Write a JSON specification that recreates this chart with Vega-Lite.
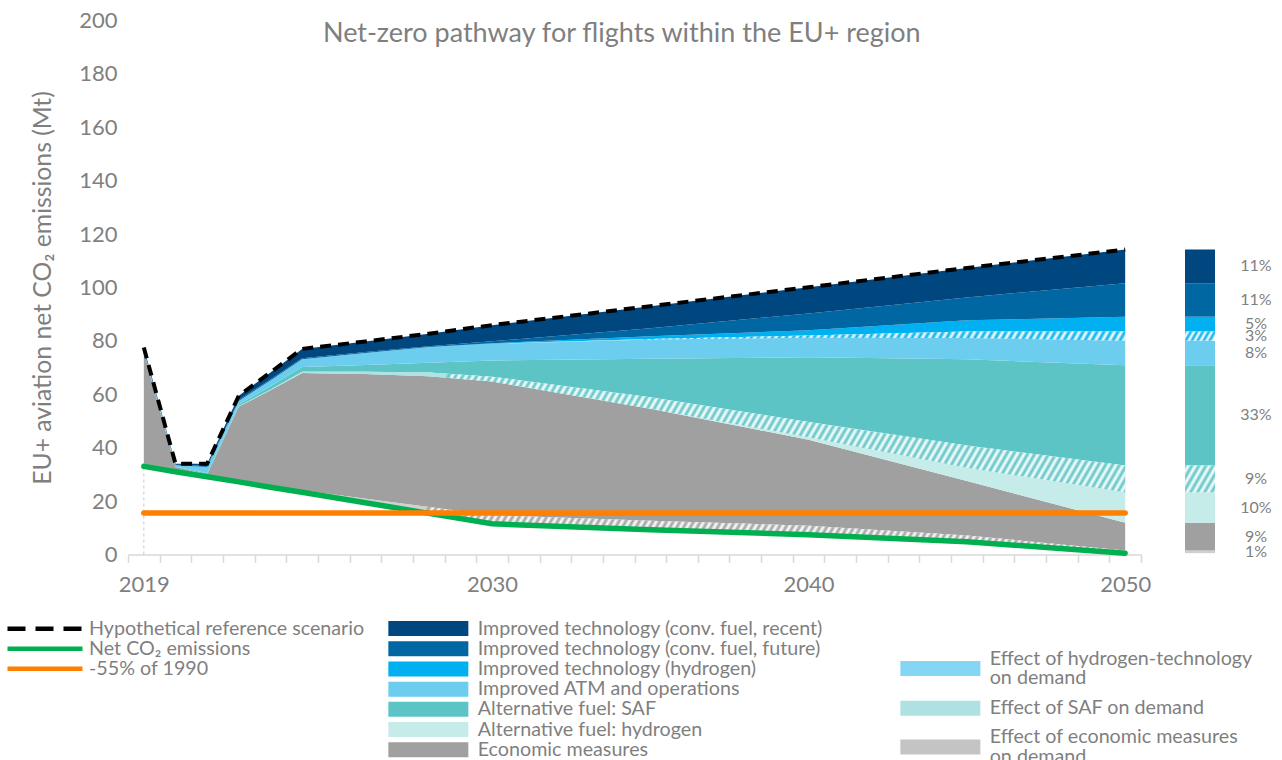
{
  "$schema": "https://vega.github.io/schema/vega-lite/v6.json",
  "background": "white",
  "padding": {"left": 5, "top": 9.5, "right": 5, "bottom": 0},
  "bounds": "flush",
  "spacing": 44,
  "config": {
    "font": "Lato",
    "view": {"stroke": null},
    "axis": {"labelFont": "Lato", "titleFont": "Lato", "labelColor": "#7f7f7f", "titleColor": "#7f7f7f", "grid": false, "titleFontWeight": "normal"},
    "legend": {"labelFont": "Lato", "labelColor": "#7f7f7f", "labelFontSize": 19.7, "labelLimit": 600, "padding": 0}
  },
  "datasets": {
    "comps": [
      {"key": "net", "label": "Net", "o": 0, "line": "Net CO₂ emissions"},
      {"key": "econ_demand", "label": "Effect of economic measures on demand", "o": 1, "line": ""},
      {"key": "econ", "label": "Economic measures", "o": 2, "line": ""},
      {"key": "h2_fuel", "label": "Alternative fuel: hydrogen", "o": 3, "line": ""},
      {"key": "saf_demand", "label": "Effect of SAF on demand", "o": 4, "line": ""},
      {"key": "saf", "label": "Alternative fuel: SAF", "o": 5, "line": ""},
      {"key": "atm", "label": "Improved ATM and operations", "o": 6, "line": ""},
      {"key": "h2_demand", "label": "Effect of hydrogen-technology on demand", "o": 7, "line": ""},
      {"key": "h2_tech", "label": "Improved technology (hydrogen)", "o": 8, "line": ""},
      {"key": "tech_future", "label": "Improved technology (conv. fuel, future)", "o": 9, "line": ""},
      {"key": "tech_recent", "label": "Improved technology (conv. fuel, recent)", "o": 10, "line": "Hypothetical reference scenario"}
    ],
    "years": [
      {"year": 2019, "net": 33.0, "econ_demand": 0, "econ": 42.8, "h2_fuel": 0, "saf_demand": 0, "saf": 0.2, "atm": 0.6, "h2_demand": 0, "h2_tech": 0, "tech_future": 0, "tech_recent": 0.9},
      {"year": 2020, "net": 31.0, "econ_demand": 0, "econ": 1.8, "h2_fuel": 0, "saf_demand": 0, "saf": 0.2, "atm": 0.4, "h2_demand": 0, "h2_tech": 0, "tech_future": 0.2, "tech_recent": 0.4},
      {"year": 2021, "net": 29.1, "econ_demand": 0, "econ": 0.8, "h2_fuel": 0, "saf_demand": 0, "saf": 0.5, "atm": 2.4, "h2_demand": 0, "h2_tech": 0, "tech_future": 0.4, "tech_recent": 0.8},
      {"year": 2022, "net": 27.2, "econ_demand": 0.3, "econ": 27.9, "h2_fuel": 0, "saf_demand": 0.1, "saf": 0.7, "atm": 1.3, "h2_demand": 0, "h2_tech": 0, "tech_future": 0.5, "tech_recent": 1.5},
      {"year": 2023, "net": 25.2, "econ_demand": 0.5, "econ": 35.8, "h2_fuel": 0, "saf_demand": 0.2, "saf": 1.3, "atm": 2.2, "h2_demand": 0, "h2_tech": 0, "tech_future": 0.4, "tech_recent": 2.6},
      {"year": 2024, "net": 23.3, "econ_demand": 0.8, "econ": 43.9, "h2_fuel": 0, "saf_demand": 0.4, "saf": 1.8, "atm": 2.9, "h2_demand": 0, "h2_tech": 0, "tech_future": 0.4, "tech_recent": 3.5},
      {"year": 2026, "net": 19.4, "econ_demand": 1.5, "econ": 46.7, "h2_fuel": 0, "saf_demand": 0.8, "saf": 2.6, "atm": 4.5, "h2_demand": 0, "h2_tech": 0, "tech_future": 0.3, "tech_recent": 4.0},
      {"year": 2028, "net": 15.4, "econ_demand": 2.4, "econ": 49.0, "h2_fuel": 0, "saf_demand": 1.4, "saf": 3.6, "atm": 5.8, "h2_demand": 0, "h2_tech": 0.1, "tech_future": 0.3, "tech_recent": 4.7},
      {"year": 2030, "net": 11.5, "econ_demand": 3.2, "econ": 50.1, "h2_fuel": 0, "saf_demand": 1.8, "saf": 6.1, "atm": 6.2, "h2_demand": 0, "h2_tech": 0.2, "tech_future": 0.8, "tech_recent": 6.0},
      {"year": 2035, "net": 9.3, "econ_demand": 3.3, "econ": 42.0, "h2_fuel": 0, "saf_demand": 4.3, "saf": 14.4, "atm": 7.2, "h2_demand": 0.2, "h2_tech": 1.0, "tech_future": 3.0, "tech_recent": 8.3},
      {"year": 2040, "net": 7.4, "econ_demand": 3.4, "econ": 32.2, "h2_fuel": 0.9, "saf_demand": 5.7, "saf": 24.3, "atm": 7.3, "h2_demand": 0.8, "h2_tech": 2.0, "tech_future": 6.3, "tech_recent": 9.8},
      {"year": 2045, "net": 4.8, "econ_demand": 2.3, "econ": 20.4, "h2_fuel": 5.0, "saf_demand": 8.3, "saf": 32.3, "atm": 8.0, "h2_demand": 2.4, "h2_tech": 4.2, "tech_future": 8.6, "tech_recent": 11.0},
      {"year": 2050, "net": 0.5, "econ_demand": 1.0, "econ": 10.4, "h2_fuel": 11.4, "saf_demand": 10.0, "saf": 37.6, "atm": 9.2, "h2_demand": 3.4, "h2_tech": 5.5, "tech_future": 12.6, "tech_recent": 12.6}
    ],
    "target": [
      {"year": 2019, "v": 15.5, "line": "-55% of 1990"},
      {"year": 2050, "v": 15.5, "line": "-55% of 1990"}
    ],
    "heading": [
      {"year": 2034.1, "v": 195.1, "text": "Net-zero pathway for flights within the EU+ region"}
    ],
    "bar": [
      {"key": "net", "v": 0.5, "pct": ""},
      {"key": "econ_demand", "v": 1.0, "pct": "1%"},
      {"key": "econ", "v": 10.4, "pct": "9%"},
      {"key": "h2_fuel", "v": 11.4, "pct": "10%"},
      {"key": "saf_demand", "v": 10.0, "pct": "9%"},
      {"key": "saf", "v": 37.6, "pct": "33%"},
      {"key": "atm", "v": 9.2, "pct": "8%"},
      {"key": "h2_demand", "v": 3.4, "pct": "3%"},
      {"key": "h2_tech", "v": 5.5, "pct": "5%"},
      {"key": "tech_future", "v": 12.6, "pct": "11%"},
      {"key": "tech_recent", "v": 12.6, "pct": "11%"}
    ]
  },
  "resolve": {
    "scale": {"y": "independent", "fill": "independent"},
    "legend": {"fill": "independent"}
  },
  "hconcat": [
    {
      "width": 1013,
      "height": 534,
      "layer": [
        {
          "data": {"name": "years"},
          "transform": [
            {"fold": ["net", "econ_demand", "econ", "h2_fuel", "saf_demand", "saf", "atm", "h2_demand", "h2_tech", "tech_future", "tech_recent"], "as": ["key", "v"]},
            {"lookup": "key", "from": {"data": {"name": "comps"}, "key": "key", "fields": ["label", "o", "line"]}},
            {"stack": "v", "groupby": ["year"], "sort": [{"field": "o", "order": "ascending"}], "as": ["v0", "v1"]}
          ],
          "layer": [
            {
              "transform": [{"filter": {"field": "key", "oneOf": ["econ", "h2_fuel", "saf", "atm", "h2_tech", "tech_future", "tech_recent"]}}],
              "mark": {"type": "area", "interpolate": "linear"},
              "encoding": {
                "x": {"field": "year", "type": "quantitative", "scale": {"domain": [2018.5, 2050.5], "nice": false, "zero": false},
                  "axis": {"title": null, "values": [2018.5, 2019, 2019.5, 2020.5, 2021.5, 2022.5, 2023.5, 2024.5, 2025.5, 2026.5, 2027.5, 2028.5, 2029.5, 2030, 2030.5, 2031.5, 2032.5, 2033.5, 2034.5, 2035.5, 2036.5, 2037.5, 2038.5, 2039.5, 2040, 2040.5, 2041.5, 2042.5, 2043.5, 2044.5, 2045.5, 2046.5, 2047.5, 2048.5, 2049.5, 2050, 2050.5],
                    "tickCount": 200, "labelFlush": false,
                    "labelExpr": "datum.value % 1 === 0 ? '' + datum.value : ''", "labelOverlap": false, "labelFontSize": 22, "labelPadding": 12, "labelAngle": 0,
                    "domainColor": "#d9d9d9", "domainWidth": 1.5, "tickColor": "#d9d9d9", "tickWidth": 1.5, "tickSize": 8,
                    "tickOpacity": {"condition": {"test": "datum.value % 1 === 0", "value": 0}, "value": 1}}},
                "y": {"field": "v1", "type": "quantitative", "stack": null, "scale": {"domain": [0, 200], "nice": false},
                  "axis": {"title": "EU+ aviation net CO₂ emissions (Mt)", "values": [0, 20, 40, 60, 80, 100, 120, 140, 160, 180, 200], "domain": false, "ticks": false, "grid": false, "labelPadding": 11, "labelFontSize": 22, "titleFontSize": 24.7, "titlePadding": 23}},
                "y2": {"field": "v0"},
                "fill": {"field": "label", "type": "nominal",
                  "scale": {"domain": ["Improved technology (conv. fuel, recent)", "Improved technology (conv. fuel, future)", "Improved technology (hydrogen)", "Improved ATM and operations", "Alternative fuel: SAF", "Alternative fuel: hydrogen", "Economic measures"],
                    "range": ["#00467f", "#0067a3", "#00b0f0", "#6dcdef", "#5dc4c6", "#c5ece8", "#a0a0a0"]},
                  "legend": {"orient": "none", "legendX": 260, "legendY": 598.2, "title": null, "symbolType": "M-1,-0.79H7.42V0.79H-1Z", "symbolSize": 361, "symbolStrokeWidth": 0, "labelOffset": 70, "rowPadding": -0.8}}
              }
            },
            {
              "transform": [{"filter": {"field": "key", "oneOf": ["econ_demand", "saf_demand", "h2_demand"]}}],
              "mark": {"type": "area", "interpolate": "linear"},
              "encoding": {
                "x": {"field": "year", "type": "quantitative"},
                "y": {"field": "v1", "type": "quantitative", "stack": null},
                "y2": {"field": "v0"},
                "color": {"field": "label", "type": "nominal",
                  "scale": {"domain": ["Effect of hydrogen-technology on demand", "Effect of SAF on demand", "Effect of economic measures on demand"], "range": ["#85d6f5", "#afe1e2", "#c4c4c4"]},
                  "legend": {"orient": "none", "legendX": 772, "legendY": 638.25, "title": null, "symbolType": "M-1,-0.79H7.42V0.79H-1Z", "symbolSize": 361, "symbolStrokeWidth": 0, "labelOffset": 70, "rowPadding": 8.75,
                    "labelExpr": "datum.label == 'Effect of hydrogen-technology on demand' ? ['Effect of hydrogen-technology', 'on demand'] : datum.label == 'Effect of economic measures on demand' ? ['Effect of economic measures', 'on demand'] : datum.label",
                    "encode": {"labels": {"update": {"lineHeight": {"value": 19.5}, "dy": [{"test": "datum.value === 'Effect of hydrogen-technology on demand' || datum.value === 'Effect of economic measures on demand'", "value": -9.75}, {"value": 0}]}}}}}
              }
            },
            {
              "transform": [{"filter": {"field": "key", "equal": "econ_demand"}}],
              "mark": {"type": "area", "interpolate": "linear", "fill": {"gradient": "linear", "x1": 0, "y1": 0, "x2": 1.0483, "y2": 0.0535, "stops": [
                {"offset": 0, "color": "#d0d0d0"}, {"offset": 0.2967, "color": "#d0d0d0"},
                {"offset": 0.3000, "color": "#a0a0a0"}, {"offset": 0.3033, "color": "#fff"}, {"offset": 0.3066, "color": "#a0a0a0"}, {"offset": 0.3099, "color": "#fff"}, {"offset": 0.3132, "color": "#a0a0a0"}, {"offset": 0.3165, "color": "#fff"}, {"offset": 0.3198, "color": "#a0a0a0"}, {"offset": 0.3231, "color": "#fff"}, {"offset": 0.3264, "color": "#a0a0a0"}, {"offset": 0.3297, "color": "#fff"},
                {"offset": 0.3330, "color": "#a0a0a0"}, {"offset": 0.3363, "color": "#fff"}, {"offset": 0.3396, "color": "#a0a0a0"}, {"offset": 0.3429, "color": "#fff"}, {"offset": 0.3462, "color": "#a0a0a0"}, {"offset": 0.3495, "color": "#fff"}, {"offset": 0.3528, "color": "#a0a0a0"}, {"offset": 0.3561, "color": "#fff"}, {"offset": 0.3594, "color": "#a0a0a0"}, {"offset": 0.3627, "color": "#fff"},
                {"offset": 0.3660, "color": "#a0a0a0"}, {"offset": 0.3693, "color": "#fff"}, {"offset": 0.3726, "color": "#a0a0a0"}, {"offset": 0.3759, "color": "#fff"}, {"offset": 0.3792, "color": "#a0a0a0"}, {"offset": 0.3825, "color": "#fff"}, {"offset": 0.3858, "color": "#a0a0a0"}, {"offset": 0.3891, "color": "#fff"}, {"offset": 0.3924, "color": "#a0a0a0"}, {"offset": 0.3957, "color": "#fff"},
                {"offset": 0.3990, "color": "#a0a0a0"}, {"offset": 0.4023, "color": "#fff"}, {"offset": 0.4056, "color": "#a0a0a0"}, {"offset": 0.4089, "color": "#fff"}, {"offset": 0.4122, "color": "#a0a0a0"}, {"offset": 0.4155, "color": "#fff"}, {"offset": 0.4188, "color": "#a0a0a0"}, {"offset": 0.4221, "color": "#fff"}, {"offset": 0.4254, "color": "#a0a0a0"}, {"offset": 0.4287, "color": "#fff"},
                {"offset": 0.4320, "color": "#a0a0a0"}, {"offset": 0.4353, "color": "#fff"}, {"offset": 0.4386, "color": "#a0a0a0"}, {"offset": 0.4419, "color": "#fff"}, {"offset": 0.4452, "color": "#a0a0a0"}, {"offset": 0.4485, "color": "#fff"}, {"offset": 0.4518, "color": "#a0a0a0"}, {"offset": 0.4551, "color": "#fff"}, {"offset": 0.4584, "color": "#a0a0a0"}, {"offset": 0.4617, "color": "#fff"},
                {"offset": 0.4650, "color": "#a0a0a0"}, {"offset": 0.4683, "color": "#fff"}, {"offset": 0.4716, "color": "#a0a0a0"}, {"offset": 0.4749, "color": "#fff"}, {"offset": 0.4782, "color": "#a0a0a0"}, {"offset": 0.4815, "color": "#fff"}, {"offset": 0.4848, "color": "#a0a0a0"}, {"offset": 0.4881, "color": "#fff"}, {"offset": 0.4914, "color": "#a0a0a0"}, {"offset": 0.4947, "color": "#fff"},
                {"offset": 0.4980, "color": "#a0a0a0"}, {"offset": 0.5013, "color": "#fff"}, {"offset": 0.5046, "color": "#a0a0a0"}, {"offset": 0.5079, "color": "#fff"}, {"offset": 0.5112, "color": "#a0a0a0"}, {"offset": 0.5145, "color": "#fff"}, {"offset": 0.5178, "color": "#a0a0a0"}, {"offset": 0.5211, "color": "#fff"}, {"offset": 0.5244, "color": "#a0a0a0"}, {"offset": 0.5277, "color": "#fff"},
                {"offset": 0.5310, "color": "#a0a0a0"}, {"offset": 0.5343, "color": "#fff"}, {"offset": 0.5376, "color": "#a0a0a0"}, {"offset": 0.5409, "color": "#fff"}, {"offset": 0.5442, "color": "#a0a0a0"}, {"offset": 0.5475, "color": "#fff"}, {"offset": 0.5508, "color": "#a0a0a0"}, {"offset": 0.5541, "color": "#fff"}, {"offset": 0.5574, "color": "#a0a0a0"}, {"offset": 0.5607, "color": "#fff"},
                {"offset": 0.5640, "color": "#a0a0a0"}, {"offset": 0.5673, "color": "#fff"}, {"offset": 0.5706, "color": "#a0a0a0"}, {"offset": 0.5739, "color": "#fff"}, {"offset": 0.5772, "color": "#a0a0a0"}, {"offset": 0.5805, "color": "#fff"}, {"offset": 0.5838, "color": "#a0a0a0"}, {"offset": 0.5871, "color": "#fff"}, {"offset": 0.5904, "color": "#a0a0a0"}, {"offset": 0.5937, "color": "#fff"},
                {"offset": 0.5970, "color": "#a0a0a0"}, {"offset": 0.6003, "color": "#fff"}, {"offset": 0.6036, "color": "#a0a0a0"}, {"offset": 0.6069, "color": "#fff"}, {"offset": 0.6102, "color": "#a0a0a0"}, {"offset": 0.6135, "color": "#fff"}, {"offset": 0.6168, "color": "#a0a0a0"}, {"offset": 0.6201, "color": "#fff"}, {"offset": 0.6234, "color": "#a0a0a0"}, {"offset": 0.6267, "color": "#fff"},
                {"offset": 0.6300, "color": "#a0a0a0"}, {"offset": 0.6333, "color": "#fff"}, {"offset": 0.6366, "color": "#a0a0a0"}, {"offset": 0.6399, "color": "#fff"}, {"offset": 0.6432, "color": "#a0a0a0"}, {"offset": 0.6465, "color": "#fff"}, {"offset": 0.6498, "color": "#a0a0a0"}, {"offset": 0.6531, "color": "#fff"}, {"offset": 0.6564, "color": "#a0a0a0"}, {"offset": 0.6597, "color": "#fff"},
                {"offset": 0.6630, "color": "#a0a0a0"}, {"offset": 0.6663, "color": "#fff"}, {"offset": 0.6696, "color": "#a0a0a0"}, {"offset": 0.6729, "color": "#fff"}, {"offset": 0.6762, "color": "#a0a0a0"}, {"offset": 0.6795, "color": "#fff"}, {"offset": 0.6828, "color": "#a0a0a0"}, {"offset": 0.6861, "color": "#fff"}, {"offset": 0.6894, "color": "#a0a0a0"}, {"offset": 0.6927, "color": "#fff"},
                {"offset": 0.6960, "color": "#a0a0a0"}, {"offset": 0.6993, "color": "#fff"}, {"offset": 0.7026, "color": "#a0a0a0"}, {"offset": 0.7059, "color": "#fff"}, {"offset": 0.7092, "color": "#a0a0a0"}, {"offset": 0.7125, "color": "#fff"}, {"offset": 0.7158, "color": "#a0a0a0"}, {"offset": 0.7191, "color": "#fff"}, {"offset": 0.7224, "color": "#a0a0a0"}, {"offset": 0.7257, "color": "#fff"},
                {"offset": 0.7290, "color": "#a0a0a0"}, {"offset": 0.7323, "color": "#fff"}, {"offset": 0.7356, "color": "#a0a0a0"}, {"offset": 0.7389, "color": "#fff"}, {"offset": 0.7422, "color": "#a0a0a0"}, {"offset": 0.7455, "color": "#fff"}, {"offset": 0.7488, "color": "#a0a0a0"}, {"offset": 0.7521, "color": "#fff"}, {"offset": 0.7554, "color": "#a0a0a0"}, {"offset": 0.7587, "color": "#fff"},
                {"offset": 0.7620, "color": "#a0a0a0"}, {"offset": 0.7653, "color": "#fff"}, {"offset": 0.7686, "color": "#a0a0a0"}, {"offset": 0.7719, "color": "#fff"}, {"offset": 0.7752, "color": "#a0a0a0"}, {"offset": 0.7785, "color": "#fff"}, {"offset": 0.7818, "color": "#a0a0a0"}, {"offset": 0.7851, "color": "#fff"}, {"offset": 0.7884, "color": "#a0a0a0"}, {"offset": 0.7917, "color": "#fff"},
                {"offset": 0.7950, "color": "#a0a0a0"}, {"offset": 0.7983, "color": "#fff"}, {"offset": 0.8016, "color": "#a0a0a0"}, {"offset": 0.8049, "color": "#fff"}, {"offset": 0.8082, "color": "#a0a0a0"}, {"offset": 0.8115, "color": "#fff"}, {"offset": 0.8148, "color": "#a0a0a0"}, {"offset": 0.8181, "color": "#fff"}, {"offset": 0.8214, "color": "#a0a0a0"}, {"offset": 0.8247, "color": "#fff"},
                {"offset": 0.8280, "color": "#a0a0a0"}, {"offset": 0.8313, "color": "#fff"}, {"offset": 0.8346, "color": "#a0a0a0"}, {"offset": 0.8379, "color": "#fff"}, {"offset": 0.8412, "color": "#a0a0a0"}, {"offset": 0.8445, "color": "#fff"}, {"offset": 0.8478, "color": "#a0a0a0"}, {"offset": 0.8511, "color": "#fff"}, {"offset": 0.8544, "color": "#a0a0a0"}, {"offset": 0.8577, "color": "#fff"},
                {"offset": 0.8610, "color": "#a0a0a0"}, {"offset": 0.8643, "color": "#fff"}, {"offset": 0.8676, "color": "#a0a0a0"}, {"offset": 0.8709, "color": "#fff"}, {"offset": 0.8742, "color": "#a0a0a0"}, {"offset": 0.8775, "color": "#fff"}, {"offset": 0.8808, "color": "#a0a0a0"}, {"offset": 0.8841, "color": "#fff"}, {"offset": 0.8874, "color": "#a0a0a0"}, {"offset": 0.8907, "color": "#fff"},
                {"offset": 0.8940, "color": "#a0a0a0"}, {"offset": 0.8973, "color": "#fff"}, {"offset": 0.9006, "color": "#a0a0a0"}, {"offset": 0.9039, "color": "#fff"}, {"offset": 0.9072, "color": "#a0a0a0"}, {"offset": 0.9105, "color": "#fff"}, {"offset": 0.9138, "color": "#a0a0a0"}, {"offset": 0.9171, "color": "#fff"}, {"offset": 0.9204, "color": "#a0a0a0"}, {"offset": 0.9237, "color": "#fff"},
                {"offset": 0.9270, "color": "#a0a0a0"}, {"offset": 0.9303, "color": "#fff"}, {"offset": 0.9336, "color": "#a0a0a0"}, {"offset": 0.9369, "color": "#fff"}, {"offset": 0.9402, "color": "#a0a0a0"}, {"offset": 0.9435, "color": "#fff"}, {"offset": 0.9468, "color": "#a0a0a0"}, {"offset": 0.9501, "color": "#fff"}, {"offset": 0.9534, "color": "#a0a0a0"}, {"offset": 0.9567, "color": "#fff"},
                {"offset": 0.9600, "color": "#a0a0a0"}, {"offset": 0.9633, "color": "#fff"}, {"offset": 0.9666, "color": "#a0a0a0"}, {"offset": 0.9699, "color": "#fff"}, {"offset": 0.9732, "color": "#a0a0a0"}, {"offset": 0.9765, "color": "#fff"}, {"offset": 0.9798, "color": "#a0a0a0"}, {"offset": 0.9831, "color": "#fff"}, {"offset": 0.9864, "color": "#a0a0a0"}, {"offset": 0.9897, "color": "#fff"},
                {"offset": 0.9930, "color": "#a0a0a0"}, {"offset": 0.9963, "color": "#fff"}, {"offset": 0.9996, "color": "#a0a0a0"}
              ]}},
              "encoding": {
                "x": {"field": "year", "type": "quantitative"},
                "y": {"field": "v1", "type": "quantitative", "stack": null},
                "y2": {"field": "v0"}
              }
            },
            {
              "transform": [{"filter": {"field": "key", "equal": "saf_demand"}}],
              "mark": {"type": "area", "interpolate": "linear", "fill": {"gradient": "linear", "x1": 0, "y1": 0, "x2": 1.0752, "y2": 0.0887, "stops": [
                {"offset": 0, "color": "#aee2e3"}, {"offset": 0.2967, "color": "#aee2e3"},
                {"offset": 0.3000, "color": "#5dc4c6"}, {"offset": 0.3033, "color": "#fff"}, {"offset": 0.3066, "color": "#5dc4c6"}, {"offset": 0.3099, "color": "#fff"}, {"offset": 0.3132, "color": "#5dc4c6"}, {"offset": 0.3165, "color": "#fff"}, {"offset": 0.3198, "color": "#5dc4c6"}, {"offset": 0.3231, "color": "#fff"}, {"offset": 0.3264, "color": "#5dc4c6"}, {"offset": 0.3297, "color": "#fff"},
                {"offset": 0.3330, "color": "#5dc4c6"}, {"offset": 0.3363, "color": "#fff"}, {"offset": 0.3396, "color": "#5dc4c6"}, {"offset": 0.3429, "color": "#fff"}, {"offset": 0.3462, "color": "#5dc4c6"}, {"offset": 0.3495, "color": "#fff"}, {"offset": 0.3528, "color": "#5dc4c6"}, {"offset": 0.3561, "color": "#fff"}, {"offset": 0.3594, "color": "#5dc4c6"}, {"offset": 0.3627, "color": "#fff"},
                {"offset": 0.3660, "color": "#5dc4c6"}, {"offset": 0.3693, "color": "#fff"}, {"offset": 0.3726, "color": "#5dc4c6"}, {"offset": 0.3759, "color": "#fff"}, {"offset": 0.3792, "color": "#5dc4c6"}, {"offset": 0.3825, "color": "#fff"}, {"offset": 0.3858, "color": "#5dc4c6"}, {"offset": 0.3891, "color": "#fff"}, {"offset": 0.3924, "color": "#5dc4c6"}, {"offset": 0.3957, "color": "#fff"},
                {"offset": 0.3990, "color": "#5dc4c6"}, {"offset": 0.4023, "color": "#fff"}, {"offset": 0.4056, "color": "#5dc4c6"}, {"offset": 0.4089, "color": "#fff"}, {"offset": 0.4122, "color": "#5dc4c6"}, {"offset": 0.4155, "color": "#fff"}, {"offset": 0.4188, "color": "#5dc4c6"}, {"offset": 0.4221, "color": "#fff"}, {"offset": 0.4254, "color": "#5dc4c6"}, {"offset": 0.4287, "color": "#fff"},
                {"offset": 0.4320, "color": "#5dc4c6"}, {"offset": 0.4353, "color": "#fff"}, {"offset": 0.4386, "color": "#5dc4c6"}, {"offset": 0.4419, "color": "#fff"}, {"offset": 0.4452, "color": "#5dc4c6"}, {"offset": 0.4485, "color": "#fff"}, {"offset": 0.4518, "color": "#5dc4c6"}, {"offset": 0.4551, "color": "#fff"}, {"offset": 0.4584, "color": "#5dc4c6"}, {"offset": 0.4617, "color": "#fff"},
                {"offset": 0.4650, "color": "#5dc4c6"}, {"offset": 0.4683, "color": "#fff"}, {"offset": 0.4716, "color": "#5dc4c6"}, {"offset": 0.4749, "color": "#fff"}, {"offset": 0.4782, "color": "#5dc4c6"}, {"offset": 0.4815, "color": "#fff"}, {"offset": 0.4848, "color": "#5dc4c6"}, {"offset": 0.4881, "color": "#fff"}, {"offset": 0.4914, "color": "#5dc4c6"}, {"offset": 0.4947, "color": "#fff"},
                {"offset": 0.4980, "color": "#5dc4c6"}, {"offset": 0.5013, "color": "#fff"}, {"offset": 0.5046, "color": "#5dc4c6"}, {"offset": 0.5079, "color": "#fff"}, {"offset": 0.5112, "color": "#5dc4c6"}, {"offset": 0.5145, "color": "#fff"}, {"offset": 0.5178, "color": "#5dc4c6"}, {"offset": 0.5211, "color": "#fff"}, {"offset": 0.5244, "color": "#5dc4c6"}, {"offset": 0.5277, "color": "#fff"},
                {"offset": 0.5310, "color": "#5dc4c6"}, {"offset": 0.5343, "color": "#fff"}, {"offset": 0.5376, "color": "#5dc4c6"}, {"offset": 0.5409, "color": "#fff"}, {"offset": 0.5442, "color": "#5dc4c6"}, {"offset": 0.5475, "color": "#fff"}, {"offset": 0.5508, "color": "#5dc4c6"}, {"offset": 0.5541, "color": "#fff"}, {"offset": 0.5574, "color": "#5dc4c6"}, {"offset": 0.5607, "color": "#fff"},
                {"offset": 0.5640, "color": "#5dc4c6"}, {"offset": 0.5673, "color": "#fff"}, {"offset": 0.5706, "color": "#5dc4c6"}, {"offset": 0.5739, "color": "#fff"}, {"offset": 0.5772, "color": "#5dc4c6"}, {"offset": 0.5805, "color": "#fff"}, {"offset": 0.5838, "color": "#5dc4c6"}, {"offset": 0.5871, "color": "#fff"}, {"offset": 0.5904, "color": "#5dc4c6"}, {"offset": 0.5937, "color": "#fff"},
                {"offset": 0.5970, "color": "#5dc4c6"}, {"offset": 0.6003, "color": "#fff"}, {"offset": 0.6036, "color": "#5dc4c6"}, {"offset": 0.6069, "color": "#fff"}, {"offset": 0.6102, "color": "#5dc4c6"}, {"offset": 0.6135, "color": "#fff"}, {"offset": 0.6168, "color": "#5dc4c6"}, {"offset": 0.6201, "color": "#fff"}, {"offset": 0.6234, "color": "#5dc4c6"}, {"offset": 0.6267, "color": "#fff"},
                {"offset": 0.6300, "color": "#5dc4c6"}, {"offset": 0.6333, "color": "#fff"}, {"offset": 0.6366, "color": "#5dc4c6"}, {"offset": 0.6399, "color": "#fff"}, {"offset": 0.6432, "color": "#5dc4c6"}, {"offset": 0.6465, "color": "#fff"}, {"offset": 0.6498, "color": "#5dc4c6"}, {"offset": 0.6531, "color": "#fff"}, {"offset": 0.6564, "color": "#5dc4c6"}, {"offset": 0.6597, "color": "#fff"},
                {"offset": 0.6630, "color": "#5dc4c6"}, {"offset": 0.6663, "color": "#fff"}, {"offset": 0.6696, "color": "#5dc4c6"}, {"offset": 0.6729, "color": "#fff"}, {"offset": 0.6762, "color": "#5dc4c6"}, {"offset": 0.6795, "color": "#fff"}, {"offset": 0.6828, "color": "#5dc4c6"}, {"offset": 0.6861, "color": "#fff"}, {"offset": 0.6894, "color": "#5dc4c6"}, {"offset": 0.6927, "color": "#fff"},
                {"offset": 0.6960, "color": "#5dc4c6"}, {"offset": 0.6993, "color": "#fff"}, {"offset": 0.7026, "color": "#5dc4c6"}, {"offset": 0.7059, "color": "#fff"}, {"offset": 0.7092, "color": "#5dc4c6"}, {"offset": 0.7125, "color": "#fff"}, {"offset": 0.7158, "color": "#5dc4c6"}, {"offset": 0.7191, "color": "#fff"}, {"offset": 0.7224, "color": "#5dc4c6"}, {"offset": 0.7257, "color": "#fff"},
                {"offset": 0.7290, "color": "#5dc4c6"}, {"offset": 0.7323, "color": "#fff"}, {"offset": 0.7356, "color": "#5dc4c6"}, {"offset": 0.7389, "color": "#fff"}, {"offset": 0.7422, "color": "#5dc4c6"}, {"offset": 0.7455, "color": "#fff"}, {"offset": 0.7488, "color": "#5dc4c6"}, {"offset": 0.7521, "color": "#fff"}, {"offset": 0.7554, "color": "#5dc4c6"}, {"offset": 0.7587, "color": "#fff"},
                {"offset": 0.7620, "color": "#5dc4c6"}, {"offset": 0.7653, "color": "#fff"}, {"offset": 0.7686, "color": "#5dc4c6"}, {"offset": 0.7719, "color": "#fff"}, {"offset": 0.7752, "color": "#5dc4c6"}, {"offset": 0.7785, "color": "#fff"}, {"offset": 0.7818, "color": "#5dc4c6"}, {"offset": 0.7851, "color": "#fff"}, {"offset": 0.7884, "color": "#5dc4c6"}, {"offset": 0.7917, "color": "#fff"},
                {"offset": 0.7950, "color": "#5dc4c6"}, {"offset": 0.7983, "color": "#fff"}, {"offset": 0.8016, "color": "#5dc4c6"}, {"offset": 0.8049, "color": "#fff"}, {"offset": 0.8082, "color": "#5dc4c6"}, {"offset": 0.8115, "color": "#fff"}, {"offset": 0.8148, "color": "#5dc4c6"}, {"offset": 0.8181, "color": "#fff"}, {"offset": 0.8214, "color": "#5dc4c6"}, {"offset": 0.8247, "color": "#fff"},
                {"offset": 0.8280, "color": "#5dc4c6"}, {"offset": 0.8313, "color": "#fff"}, {"offset": 0.8346, "color": "#5dc4c6"}, {"offset": 0.8379, "color": "#fff"}, {"offset": 0.8412, "color": "#5dc4c6"}, {"offset": 0.8445, "color": "#fff"}, {"offset": 0.8478, "color": "#5dc4c6"}, {"offset": 0.8511, "color": "#fff"}, {"offset": 0.8544, "color": "#5dc4c6"}, {"offset": 0.8577, "color": "#fff"},
                {"offset": 0.8610, "color": "#5dc4c6"}, {"offset": 0.8643, "color": "#fff"}, {"offset": 0.8676, "color": "#5dc4c6"}, {"offset": 0.8709, "color": "#fff"}, {"offset": 0.8742, "color": "#5dc4c6"}, {"offset": 0.8775, "color": "#fff"}, {"offset": 0.8808, "color": "#5dc4c6"}, {"offset": 0.8841, "color": "#fff"}, {"offset": 0.8874, "color": "#5dc4c6"}, {"offset": 0.8907, "color": "#fff"},
                {"offset": 0.8940, "color": "#5dc4c6"}, {"offset": 0.8973, "color": "#fff"}, {"offset": 0.9006, "color": "#5dc4c6"}, {"offset": 0.9039, "color": "#fff"}, {"offset": 0.9072, "color": "#5dc4c6"}, {"offset": 0.9105, "color": "#fff"}, {"offset": 0.9138, "color": "#5dc4c6"}, {"offset": 0.9171, "color": "#fff"}, {"offset": 0.9204, "color": "#5dc4c6"}, {"offset": 0.9237, "color": "#fff"},
                {"offset": 0.9270, "color": "#5dc4c6"}, {"offset": 0.9303, "color": "#fff"}, {"offset": 0.9336, "color": "#5dc4c6"}, {"offset": 0.9369, "color": "#fff"}, {"offset": 0.9402, "color": "#5dc4c6"}, {"offset": 0.9435, "color": "#fff"}, {"offset": 0.9468, "color": "#5dc4c6"}, {"offset": 0.9501, "color": "#fff"}, {"offset": 0.9534, "color": "#5dc4c6"}, {"offset": 0.9567, "color": "#fff"},
                {"offset": 0.9600, "color": "#5dc4c6"}, {"offset": 0.9633, "color": "#fff"}, {"offset": 0.9666, "color": "#5dc4c6"}, {"offset": 0.9699, "color": "#fff"}, {"offset": 0.9732, "color": "#5dc4c6"}, {"offset": 0.9765, "color": "#fff"}, {"offset": 0.9798, "color": "#5dc4c6"}, {"offset": 0.9831, "color": "#fff"}, {"offset": 0.9864, "color": "#5dc4c6"}, {"offset": 0.9897, "color": "#fff"},
                {"offset": 0.9930, "color": "#5dc4c6"}, {"offset": 0.9963, "color": "#fff"}, {"offset": 0.9996, "color": "#5dc4c6"}
              ]}},
              "encoding": {
                "x": {"field": "year", "type": "quantitative"},
                "y": {"field": "v1", "type": "quantitative", "stack": null},
                "y2": {"field": "v0"}
              }
            },
            {
              "transform": [{"filter": {"field": "key", "equal": "h2_demand"}}],
              "mark": {"type": "area", "interpolate": "linear", "fill": {"gradient": "linear", "x1": 0, "y1": 0, "x2": 1.0720, "y2": 0.0843, "stops": [
                {"offset": 0, "color": "#80d8f8"}, {"offset": 0.4749, "color": "#80d8f8"},
                {"offset": 0.4782, "color": "#00b0f0"}, {"offset": 0.4815, "color": "#fff"}, {"offset": 0.4848, "color": "#00b0f0"}, {"offset": 0.4881, "color": "#fff"}, {"offset": 0.4914, "color": "#00b0f0"}, {"offset": 0.4947, "color": "#fff"},
                {"offset": 0.4980, "color": "#00b0f0"}, {"offset": 0.5013, "color": "#fff"}, {"offset": 0.5046, "color": "#00b0f0"}, {"offset": 0.5079, "color": "#fff"}, {"offset": 0.5112, "color": "#00b0f0"}, {"offset": 0.5145, "color": "#fff"}, {"offset": 0.5178, "color": "#00b0f0"}, {"offset": 0.5211, "color": "#fff"}, {"offset": 0.5244, "color": "#00b0f0"}, {"offset": 0.5277, "color": "#fff"},
                {"offset": 0.5310, "color": "#00b0f0"}, {"offset": 0.5343, "color": "#fff"}, {"offset": 0.5376, "color": "#00b0f0"}, {"offset": 0.5409, "color": "#fff"}, {"offset": 0.5442, "color": "#00b0f0"}, {"offset": 0.5475, "color": "#fff"}, {"offset": 0.5508, "color": "#00b0f0"}, {"offset": 0.5541, "color": "#fff"}, {"offset": 0.5574, "color": "#00b0f0"}, {"offset": 0.5607, "color": "#fff"},
                {"offset": 0.5640, "color": "#00b0f0"}, {"offset": 0.5673, "color": "#fff"}, {"offset": 0.5706, "color": "#00b0f0"}, {"offset": 0.5739, "color": "#fff"}, {"offset": 0.5772, "color": "#00b0f0"}, {"offset": 0.5805, "color": "#fff"}, {"offset": 0.5838, "color": "#00b0f0"}, {"offset": 0.5871, "color": "#fff"}, {"offset": 0.5904, "color": "#00b0f0"}, {"offset": 0.5937, "color": "#fff"},
                {"offset": 0.5970, "color": "#00b0f0"}, {"offset": 0.6003, "color": "#fff"}, {"offset": 0.6036, "color": "#00b0f0"}, {"offset": 0.6069, "color": "#fff"}, {"offset": 0.6102, "color": "#00b0f0"}, {"offset": 0.6135, "color": "#fff"}, {"offset": 0.6168, "color": "#00b0f0"}, {"offset": 0.6201, "color": "#fff"}, {"offset": 0.6234, "color": "#00b0f0"}, {"offset": 0.6267, "color": "#fff"},
                {"offset": 0.6300, "color": "#00b0f0"}, {"offset": 0.6333, "color": "#fff"}, {"offset": 0.6366, "color": "#00b0f0"}, {"offset": 0.6399, "color": "#fff"}, {"offset": 0.6432, "color": "#00b0f0"}, {"offset": 0.6465, "color": "#fff"}, {"offset": 0.6498, "color": "#00b0f0"}, {"offset": 0.6531, "color": "#fff"}, {"offset": 0.6564, "color": "#00b0f0"}, {"offset": 0.6597, "color": "#fff"},
                {"offset": 0.6630, "color": "#00b0f0"}, {"offset": 0.6663, "color": "#fff"}, {"offset": 0.6696, "color": "#00b0f0"}, {"offset": 0.6729, "color": "#fff"}, {"offset": 0.6762, "color": "#00b0f0"}, {"offset": 0.6795, "color": "#fff"}, {"offset": 0.6828, "color": "#00b0f0"}, {"offset": 0.6861, "color": "#fff"}, {"offset": 0.6894, "color": "#00b0f0"}, {"offset": 0.6927, "color": "#fff"},
                {"offset": 0.6960, "color": "#00b0f0"}, {"offset": 0.6993, "color": "#fff"}, {"offset": 0.7026, "color": "#00b0f0"}, {"offset": 0.7059, "color": "#fff"}, {"offset": 0.7092, "color": "#00b0f0"}, {"offset": 0.7125, "color": "#fff"}, {"offset": 0.7158, "color": "#00b0f0"}, {"offset": 0.7191, "color": "#fff"}, {"offset": 0.7224, "color": "#00b0f0"}, {"offset": 0.7257, "color": "#fff"},
                {"offset": 0.7290, "color": "#00b0f0"}, {"offset": 0.7323, "color": "#fff"}, {"offset": 0.7356, "color": "#00b0f0"}, {"offset": 0.7389, "color": "#fff"}, {"offset": 0.7422, "color": "#00b0f0"}, {"offset": 0.7455, "color": "#fff"}, {"offset": 0.7488, "color": "#00b0f0"}, {"offset": 0.7521, "color": "#fff"}, {"offset": 0.7554, "color": "#00b0f0"}, {"offset": 0.7587, "color": "#fff"},
                {"offset": 0.7620, "color": "#00b0f0"}, {"offset": 0.7653, "color": "#fff"}, {"offset": 0.7686, "color": "#00b0f0"}, {"offset": 0.7719, "color": "#fff"}, {"offset": 0.7752, "color": "#00b0f0"}, {"offset": 0.7785, "color": "#fff"}, {"offset": 0.7818, "color": "#00b0f0"}, {"offset": 0.7851, "color": "#fff"}, {"offset": 0.7884, "color": "#00b0f0"}, {"offset": 0.7917, "color": "#fff"},
                {"offset": 0.7950, "color": "#00b0f0"}, {"offset": 0.7983, "color": "#fff"}, {"offset": 0.8016, "color": "#00b0f0"}, {"offset": 0.8049, "color": "#fff"}, {"offset": 0.8082, "color": "#00b0f0"}, {"offset": 0.8115, "color": "#fff"}, {"offset": 0.8148, "color": "#00b0f0"}, {"offset": 0.8181, "color": "#fff"}, {"offset": 0.8214, "color": "#00b0f0"}, {"offset": 0.8247, "color": "#fff"},
                {"offset": 0.8280, "color": "#00b0f0"}, {"offset": 0.8313, "color": "#fff"}, {"offset": 0.8346, "color": "#00b0f0"}, {"offset": 0.8379, "color": "#fff"}, {"offset": 0.8412, "color": "#00b0f0"}, {"offset": 0.8445, "color": "#fff"}, {"offset": 0.8478, "color": "#00b0f0"}, {"offset": 0.8511, "color": "#fff"}, {"offset": 0.8544, "color": "#00b0f0"}, {"offset": 0.8577, "color": "#fff"},
                {"offset": 0.8610, "color": "#00b0f0"}, {"offset": 0.8643, "color": "#fff"}, {"offset": 0.8676, "color": "#00b0f0"}, {"offset": 0.8709, "color": "#fff"}, {"offset": 0.8742, "color": "#00b0f0"}, {"offset": 0.8775, "color": "#fff"}, {"offset": 0.8808, "color": "#00b0f0"}, {"offset": 0.8841, "color": "#fff"}, {"offset": 0.8874, "color": "#00b0f0"}, {"offset": 0.8907, "color": "#fff"},
                {"offset": 0.8940, "color": "#00b0f0"}, {"offset": 0.8973, "color": "#fff"}, {"offset": 0.9006, "color": "#00b0f0"}, {"offset": 0.9039, "color": "#fff"}, {"offset": 0.9072, "color": "#00b0f0"}, {"offset": 0.9105, "color": "#fff"}, {"offset": 0.9138, "color": "#00b0f0"}, {"offset": 0.9171, "color": "#fff"}, {"offset": 0.9204, "color": "#00b0f0"}, {"offset": 0.9237, "color": "#fff"},
                {"offset": 0.9270, "color": "#00b0f0"}, {"offset": 0.9303, "color": "#fff"}, {"offset": 0.9336, "color": "#00b0f0"}, {"offset": 0.9369, "color": "#fff"}, {"offset": 0.9402, "color": "#00b0f0"}, {"offset": 0.9435, "color": "#fff"}, {"offset": 0.9468, "color": "#00b0f0"}, {"offset": 0.9501, "color": "#fff"}, {"offset": 0.9534, "color": "#00b0f0"}, {"offset": 0.9567, "color": "#fff"},
                {"offset": 0.9600, "color": "#00b0f0"}, {"offset": 0.9633, "color": "#fff"}, {"offset": 0.9666, "color": "#00b0f0"}, {"offset": 0.9699, "color": "#fff"}, {"offset": 0.9732, "color": "#00b0f0"}, {"offset": 0.9765, "color": "#fff"}, {"offset": 0.9798, "color": "#00b0f0"}, {"offset": 0.9831, "color": "#fff"}, {"offset": 0.9864, "color": "#00b0f0"}, {"offset": 0.9897, "color": "#fff"},
                {"offset": 0.9930, "color": "#00b0f0"}, {"offset": 0.9963, "color": "#fff"}, {"offset": 0.9996, "color": "#00b0f0"}
              ]}},
              "encoding": {
                "x": {"field": "year", "type": "quantitative"},
                "y": {"field": "v1", "type": "quantitative", "stack": null},
                "y2": {"field": "v0"}
              }
            },
            {
              "transform": [{"filter": "datum.key === 'net' && datum.year === 2019"}],
              "mark": {"type": "rule", "strokeDash": [3, 3], "color": "#c8c8c8", "strokeWidth": 1},
              "encoding": {
                "x": {"field": "year", "type": "quantitative"},
                "y": {"field": "v0", "type": "quantitative"},
                "y2": {"field": "v1"}
              }
            },
            {
              "transform": [{"filter": {"field": "key", "equal": "tech_recent"}}],
              "mark": {"type": "line", "strokeWidth": 4, "strokeDash": [11, 7]},
              "encoding": {
                "x": {"field": "year", "type": "quantitative"},
                "y": {"field": "v1", "type": "quantitative"},
                "stroke": {"field": "line", "type": "nominal",
                  "scale": {"domain": ["Hypothetical reference scenario", "Net CO₂ emissions", "-55% of 1990"], "range": ["#000000", "#00b050", "#ff7f00"]},
                  "legend": {"orient": "none", "legendX": -123, "legendY": 598.2, "title": null, "symbolType": "M-1,0H9", "symbolSize": 225, "symbolStrokeWidth": 4.5, "labelOffset": 64, "rowPadding": -1,
                    "encode": {"symbols": {"update": {"strokeWidth": {"value": 4.5}, "fill": {"value": "transparent"}, "strokeDash": [{"test": "datum.value === 'Hypothetical reference scenario'", "value": [18, 10]}, {"value": [1, 0]}]}}}}}
              }
            },
            {
              "transform": [{"filter": {"field": "key", "equal": "net"}}],
              "mark": {"type": "line", "strokeWidth": 5.5, "strokeCap": "round"},
              "encoding": {
                "x": {"field": "year", "type": "quantitative"},
                "y": {"field": "v1", "type": "quantitative"},
                "stroke": {"field": "line", "type": "nominal"}
              }
            }
          ]
        },
        {
          "data": {"name": "target"},
          "mark": {"type": "line", "strokeWidth": 5.5, "strokeCap": "round"},
          "encoding": {
            "x": {"field": "year", "type": "quantitative"},
            "y": {"field": "v", "type": "quantitative"},
            "stroke": {"field": "line", "type": "nominal"}
          }
        },
        {
          "data": {"name": "heading"},
          "mark": {"type": "text", "fontSize": 27, "color": "#7f7f7f", "align": "center", "baseline": "middle", "font": "Lato"},
          "encoding": {
            "x": {"field": "year", "type": "quantitative"},
            "y": {"field": "v", "type": "quantitative"},
            "text": {"field": "text", "type": "nominal"}
          }
        }
      ]
    },
    {
      "width": 30,
      "height": 534,
      "data": {"name": "bar"},
      "transform": [
        {"lookup": "key", "from": {"data": {"name": "comps"}, "key": "key", "fields": ["o"]}},
        {"stack": "v", "groupby": [], "sort": [{"field": "o", "order": "ascending"}], "as": ["v0", "v1"]},
        {"calculate": "(datum.v0 + datum.v1) / 2", "as": "mid"}
      ],
      "layer": [
        {
          "transform": [{"filter": "datum.key !== 'saf_demand' && datum.key !== 'h2_demand'"}],
          "mark": {"type": "rect"},
          "encoding": {
            "y": {"field": "v1", "type": "quantitative", "scale": {"domain": [0, 200], "nice": false}, "axis": null},
            "y2": {"field": "v0"},
            "fill": {"field": "key", "type": "nominal",
              "scale": {"domain": ["net", "econ_demand", "econ", "h2_fuel", "saf", "atm", "h2_tech", "tech_future", "tech_recent"],
                "range": ["rgba(0,0,0,0)", "#d0d0d0", "#a0a0a0", "#c5ece8", "#5dc4c6", "#6dcdef", "#00b0f0", "#0067a3", "#00467f"]},
              "legend": null}
          }
        },
        {
          "transform": [{"filter": "datum.key === 'saf_demand'"}],
          "mark": {"type": "rect", "fill": {"gradient": "linear", "x1": 0, "y1": 0, "x2": 1.1976, "y2": 0.6155, "stops": [{"offset": 0, "color": "#5dc4c6"}, {"offset": 0.077, "color": "#fff"}, {"offset": 0.154, "color": "#5dc4c6"}, {"offset": 0.231, "color": "#fff"}, {"offset": 0.308, "color": "#5dc4c6"}, {"offset": 0.385, "color": "#fff"}, {"offset": 0.462, "color": "#5dc4c6"}, {"offset": 0.539, "color": "#fff"}, {"offset": 0.616, "color": "#5dc4c6"}, {"offset": 0.693, "color": "#fff"}, {"offset": 0.77, "color": "#5dc4c6"}, {"offset": 0.847, "color": "#fff"}, {"offset": 0.924, "color": "#5dc4c6"}, {"offset": 1, "color": "#fff"}]}},
          "encoding": {
            "y": {"field": "v1", "type": "quantitative"},
            "y2": {"field": "v0"}
          }
        },
        {
          "transform": [{"filter": "datum.key === 'h2_demand'"}],
          "mark": {"type": "rect", "fill": {"gradient": "linear", "x1": 0, "y1": 0, "x2": 1.139, "y2": 0.1973, "stops": [{"offset": 0, "color": "#00b0f0"}, {"offset": 0.085, "color": "#fff"}, {"offset": 0.17, "color": "#00b0f0"}, {"offset": 0.255, "color": "#fff"}, {"offset": 0.34, "color": "#00b0f0"}, {"offset": 0.425, "color": "#fff"}, {"offset": 0.51, "color": "#00b0f0"}, {"offset": 0.595, "color": "#fff"}, {"offset": 0.68, "color": "#00b0f0"}, {"offset": 0.765, "color": "#fff"}, {"offset": 0.85, "color": "#00b0f0"}, {"offset": 0.935, "color": "#fff"}]}},
          "encoding": {
            "y": {"field": "v1", "type": "quantitative"},
            "y2": {"field": "v0"}
          }
        },
        {
          "mark": {"type": "text", "dx": 56, "fontSize": 16, "color": "#7f7f7f", "align": "center", "baseline": "middle", "font": "Lato"},
          "encoding": {
            "y": {"field": "mid", "type": "quantitative"},
            "text": {"field": "pct", "type": "nominal"}
          }
        }
      ]
    }
  ]
}
